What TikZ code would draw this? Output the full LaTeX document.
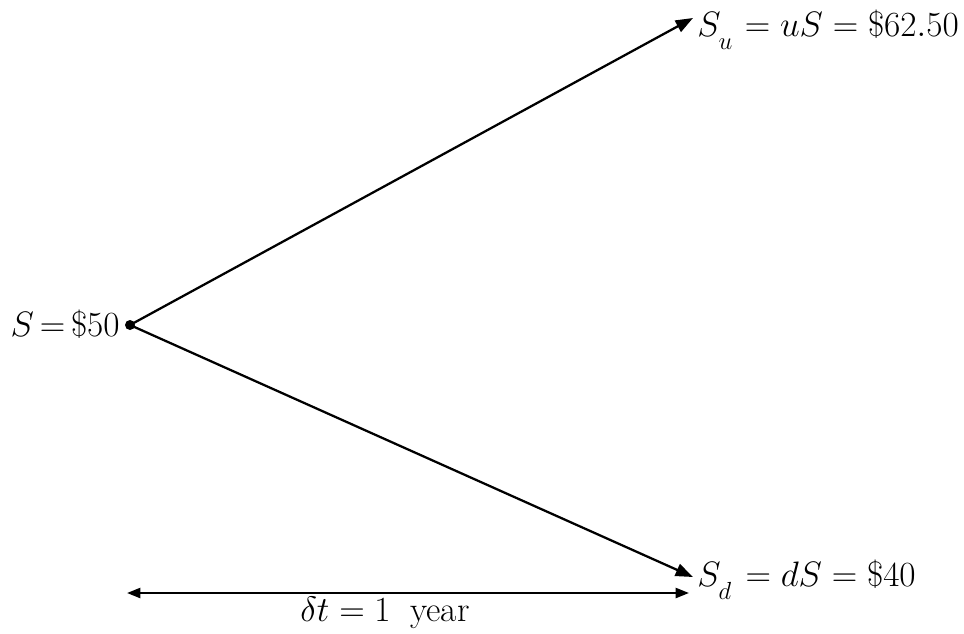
\documentclass[tikz,border=0pt]{standalone}
\usepackage{fix-cm}
\usetikzlibrary{arrows.meta}
\tikzset{
  lbl/.style={inner sep=0pt, font=\fontsize{26.5}{31}\selectfont},
  arr/.style={line width=1.7pt, -{Triangle[length=13pt,width=9.5pt]}},
  darr/.style={line width=1.7pt, {Triangle[length=10pt,width=7.5pt]}-{Triangle[length=10pt,width=7.5pt]}},
  dot/.style={circle, fill=black, inner sep=0pt, minimum size=7.5pt}
}
\newcommand{\lowsub}[1]{_{\raisebox{-6pt}{$\scriptstyle #1$}}}
\begin{document}
\begin{tikzpicture}[x=0.75pt,y=-0.75pt]
\useasboundingbox (0,0) rectangle (964,633);
\node[dot] (s) at (130,325) {};
\node[lbl, anchor=base east] (slabel) at (120,336) {$\thickmuskip=3mu S=\$50$};
\coordinate (utip) at (693,18);
\coordinate (dtip) at (693,577);
\node[lbl, anchor=base west] (ulabel) at (697,36) {$S\lowsub{u}\mskip1mu=uS=\$62.50$};
\node[lbl, anchor=base west] (dlabel) at (697,586) {$S\lowsub{d}\mskip2mu=dS=\$40$};
\draw[arr] (s.center) -- (utip);
\draw[arr] (s.center) -- (dtip);
\coordinate (tl) at (127,593);
\coordinate (tr) at (689,593);
\draw[darr] (tl) -- (tr);
\node[lbl, anchor=base] (tlabel) at (385,621) {$\delta t=1$\;\;year};
\end{tikzpicture}
\end{document}
